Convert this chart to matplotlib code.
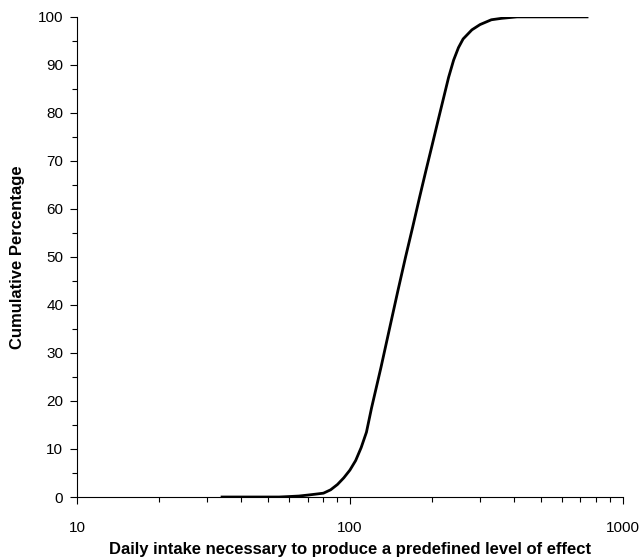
import numpy as np
import matplotlib.pyplot as plt
from matplotlib.ticker import LogLocator, NullFormatter, FixedLocator

plt.rcParams['font.family'] = ['Liberation Sans', 'DejaVu Sans']

# daily intake (log scale) and cumulative percentage
intake = [34, 40, 45, 50, 55, 60, 65, 70, 75, 80, 85, 90, 95, 100, 105, 110,
          115, 120, 130, 140, 150, 160, 170, 180, 190, 200, 210, 220, 230,
          240, 250, 260, 280, 300, 330, 360, 410, 450, 500, 600, 740]
cum_pct = [0, 0, 0, 0, 0, 0.1, 0.2, 0.4, 0.6, 0.8, 1.5, 2.6, 4.0, 5.6, 7.6, 10.3,
           13.5, 18.5, 27.0, 35.3, 43.0, 50.0, 56.3, 62.4, 68.0, 73.2, 78.2, 82.9, 87.4,
           91.0, 93.6, 95.4, 97.3, 98.4, 99.4, 99.7, 100, 100, 100, 100, 100]

fig = plt.figure(figsize=(6.42, 5.57), dpi=100)
ax = fig.add_axes([0.12, 0.1077, 0.85, 0.862])

ax.plot(intake, cum_pct, color="black", linewidth=2.0, solid_joinstyle="round")

ax.set_xscale("log")
ax.set_xlim(10, 1000)
ax.set_ylim(0, 100)

ax.xaxis.set_major_locator(FixedLocator([10, 100, 1000]))
ax.xaxis.set_major_formatter(plt.FuncFormatter(lambda v, p: f"{int(v)}"))
ax.xaxis.set_minor_locator(LogLocator(base=10, subs=np.arange(2, 10)))
ax.xaxis.set_minor_formatter(NullFormatter())
ax.set_yticks(np.arange(0, 101, 10))
ax.set_yticks(np.arange(5, 100, 10), minor=True)

for s in ["top", "right"]:
    ax.spines[s].set_visible(False)
for s in ["left", "bottom"]:
    ax.spines[s].set_linewidth(0.8)

ax.tick_params(axis="both", which="major", direction="out", length=5, width=0.8,
               labelsize=11, colors="black")
ax.tick_params(axis="x", which="major", pad=12)
ax.tick_params(axis="y", which="major", pad=5)
ax.tick_params(axis="both", which="minor", direction="out", length=3.5, width=0.8)

ax.set_xlabel("Daily intake necessary to produce a predefined level of effect",
              fontsize=12, fontweight="bold", labelpad=5)
ax.set_ylabel("Cumulative Percentage", fontsize=12, fontweight="bold", labelpad=9)

fig.savefig("out.png", dpi=100)
